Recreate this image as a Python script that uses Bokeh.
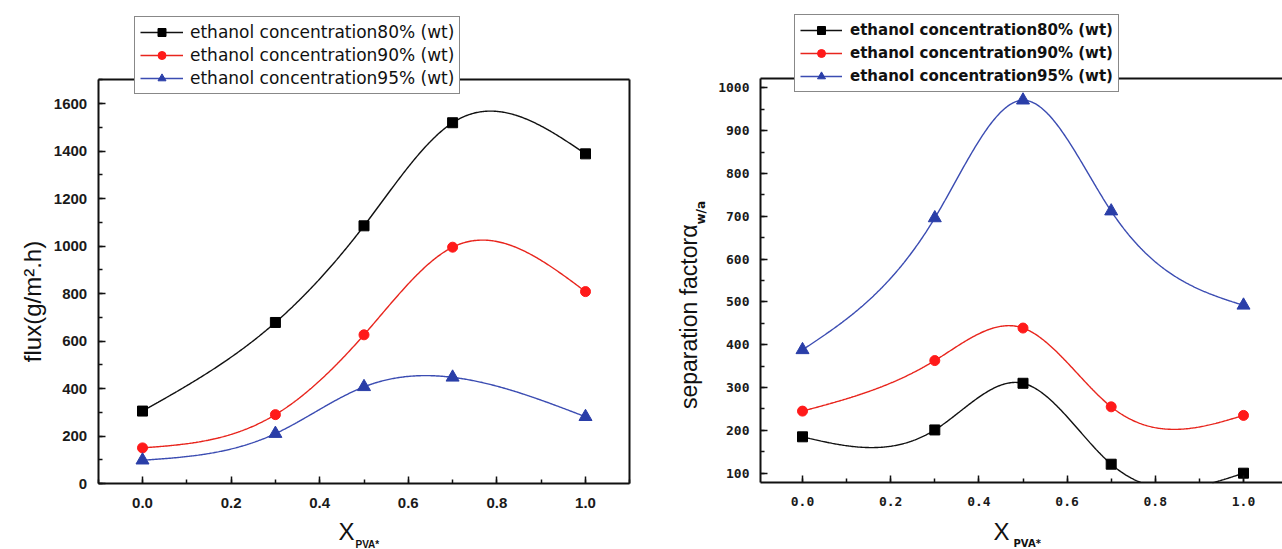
import numpy as np
from bokeh.plotting import figure
from bokeh.layouts import row
from bokeh.models import (Range1d, SingleIntervalTicker, FixedTicker, PrintfTickFormatter,
                          Label, LinearAxis)
from bokeh.embed import file_html
from bokeh.resources import INLINE

# ---------------- data ----------------
x_pva = [0.0, 0.3, 0.5, 0.7, 1.0]
flux_80 = [305, 678, 1085, 1519, 1388]
flux_90 = [150, 290, 626, 995, 808]
flux_95 = [98, 210, 407, 447, 281]
sep_80 = [185, 201, 310, 121, 100]
sep_90 = [245, 363, 439, 255, 235]
sep_95 = [388, 696, 971, 712, 492]
series_labels = ["ethanol concentration80% (wt)",
                 "ethanol concentration90% (wt)",
                 "ethanol concentration95% (wt)"]
flux_title = "flux(g/m\u00b2.h)"
sep_title = "separation factor\u03b1"
sep_sub = "w/a"
x_title = "X"
x_sub = "PVA*"

line_colors = ["#111111", "#e8251d", "#3b4cb2"]
marker_colors = ["#000000", "#ff1a1a", "#2a3ea8"]
markers = ["square", "circle", "triangle"]
marker_sizes = [10, 10, 13]

H = 549


def natural_spline(xs, ys, num=400):
    xs = np.asarray(xs, float)
    ys = np.asarray(ys, float)
    n = len(xs)
    h = np.diff(xs)
    A = np.zeros((n, n))
    b = np.zeros(n)
    A[0, 0] = 1.0
    A[-1, -1] = 1.0
    for i in range(1, n - 1):
        A[i, i - 1] = h[i - 1]
        A[i, i] = 2 * (h[i - 1] + h[i])
        A[i, i + 1] = h[i]
        b[i] = 6 * ((ys[i + 1] - ys[i]) / h[i] - (ys[i] - ys[i - 1]) / h[i - 1])
    M = np.linalg.solve(A, b)
    xd = np.linspace(xs[0], xs[-1], num)
    idx = np.clip(np.searchsorted(xs, xd) - 1, 0, n - 2)
    x0, x1 = xs[idx], xs[idx + 1]
    hh = x1 - x0
    yd = (M[idx] * (x1 - xd) ** 3 / (6 * hh) + M[idx + 1] * (xd - x0) ** 3 / (6 * hh)
          + (ys[idx] / hh - M[idx] * hh / 6) * (x1 - xd)
          + (ys[idx + 1] / hh - M[idx + 1] * hh / 6) * (xd - x0))
    return xd, yd


class Geo:
    """pixel geometry of one panel (canvas px of the reference)."""
    def __init__(self, fig_left, width, x0_px, x_scale, yref_px, yref_val, y_scale):
        self.fig_left, self.width = fig_left, width
        self.x0_px, self.x_scale = x0_px, x_scale
        self.yref_px, self.yref_val, self.y_scale = yref_px, yref_val, y_scale

    def dx(self, cx):
        return (cx - self.x0_px) / self.x_scale

    def dy(self, cy):
        return self.yref_val + (self.yref_px - cy) / self.y_scale

    def xr(self):
        return Range1d(self.dx(self.fig_left), self.dx(self.fig_left + self.width))

    def yr(self):
        return Range1d(self.dy(H), self.dy(0))


def style_axis(ax, font, size):
    ax.axis_line_width = 2
    ax.axis_line_color = "#111111"
    ax.major_tick_in = 7
    ax.major_tick_out = 0
    ax.minor_tick_in = 4
    ax.minor_tick_out = 0
    ax.major_tick_line_width = 1.5
    ax.minor_tick_line_width = 1.5
    ax.major_tick_line_color = "#111111"
    ax.minor_tick_line_color = "#111111"
    ax.major_label_text_font = font
    ax.major_label_text_font_size = size
    ax.major_label_text_font_style = "bold"
    ax.major_label_text_color = "#1a1a1a"
    ax.major_label_standoff = 11


def frame_line(loc, bounds):
    return LinearAxis(ticker=FixedTicker(ticks=[]), fixed_location=loc, bounds=bounds,
                      axis_line_width=2, axis_line_color="#111111",
                      major_tick_line_color=None, minor_tick_line_color=None)


def make_plot(g, box_x, box_y, ys_list, ytick, tick_font, tick_size,
              leg_font, leg_size, leg_style, leg_loc, leg_dims, right_line):
    p = figure(width=g.width, height=H, x_range=g.xr(), y_range=g.yr(),
               output_backend="svg", toolbar_location=None,
               min_border=0, min_border_left=0, min_border_right=0,
               min_border_top=0, min_border_bottom=0)
    p.title.visible = False
    p.grid.visible = False
    p.outline_line_color = None
    p.background_fill_color = "white"
    p.border_fill_color = "white"
    xa, ya = p.xaxis[0], p.yaxis[0]
    xa.ticker = SingleIntervalTicker(interval=0.2, num_minor_ticks=2)
    xa.formatter = PrintfTickFormatter(format="%.1f")
    ya.ticker = SingleIntervalTicker(interval=ytick, num_minor_ticks=2)
    ya.formatter = PrintfTickFormatter(format="%d")
    style_axis(xa, tick_font, tick_size)
    style_axis(ya, tick_font, tick_size)
    xa.major_label_standoff = 14
    xa.fixed_location = box_y[0]
    xa.bounds = box_x
    ya.fixed_location = box_x[0]
    ya.bounds = box_y
    p.add_layout(frame_line(box_y[1], box_x), "above")
    if right_line:
        p.add_layout(frame_line(box_x[1], box_y), "right")
    for k in range(3):
        xd, yd = natural_spline(x_pva, ys_list[k])
        yd = np.where(yd < box_y[0], np.nan, yd)
        p.line(xd, yd, line_color=line_colors[k], line_width=1.4,
               legend_label=series_labels[k])
        p.scatter(x_pva, ys_list[k], marker=markers[k], size=marker_sizes[k],
                  fill_color=marker_colors[k], line_color=marker_colors[k],
                  legend_label=series_labels[k])
    lg = p.legend[0]
    lg.location = leg_loc
    lg.label_text_font = leg_font
    lg.label_text_font_size = leg_size
    lg.label_text_font_style = leg_style
    lg.label_text_color = "#111111"
    lg.glyph_width = leg_dims[0]
    lg.glyph_height = 20
    lg.label_height = 20
    lg.label_standoff = leg_dims[1]
    lg.padding = leg_dims[2]
    lg.spacing = leg_dims[3]
    lg.margin = 0
    lg.border_line_color = "#111111"
    lg.border_line_width = 1.5
    lg.background_fill_color = "white"
    lg.background_fill_alpha = 1.0
    return p


def add_text(p, g, cx, cy, text, font, size, style="normal", align="center", angle=0.0):
    p.add_layout(Label(x=g.dx(cx), y=g.dy(cy), text=text, text_font=font,
                       text_font_size=size, text_font_style=style, text_align=align,
                       text_baseline="middle", text_color="#111111", angle=angle))


# ---------------- left: flux ----------------
gL = Geo(0, 660, 142, 443, 483, 0, 0.2375)
p1 = make_plot(gL, (-0.1, 1.1), (0, 1700), [flux_80, flux_90, flux_95], 200,
               "Liberation Sans", "15px", "DejaVu Sans", "17px", "normal",
               (134, H - 94), (43, 7, 5, 3), True)
add_text(p1, gL, 346, 531, x_title, "Liberation Sans", "24px")
add_text(p1, gL, 355, 544, x_sub, "Liberation Sans", "10px", "bold", "left")
add_text(p1, gL, 32, 301, flux_title, "Liberation Sans", "24px", angle=np.pi / 2)

# ---------------- right: separation factor ----------------
gR = Geo(660, 622, 802, 441, 472.7, 100, 0.4282)
p2 = make_plot(gR, (gR.dx(760), gR.dx(1282)), (77.6, 1022.4), [sep_80, sep_90, sep_95], 100,
               "DejaVu Sans Mono", "13px", "DejaVu Sans", "15px", "bold",
               (794 - 660, H - 92), (42, 8, 5, 3), False)
add_text(p2, gR, 1001, 531, x_title, "Liberation Sans", "24px")
add_text(p2, gR, 1013, 543, x_sub, "DejaVu Sans", "10px", "bold", "left")
add_text(p2, gR, 688, 224, sep_title, "Liberation Sans", "23px", align="right", angle=np.pi / 2)
add_text(p2, gR, 700, 224, sep_sub, "DejaVu Sans", "12px", "bold", "left", angle=np.pi / 2)

layout = row(p1, p2)
open("out.html", "w").write(file_html(layout, INLINE))
